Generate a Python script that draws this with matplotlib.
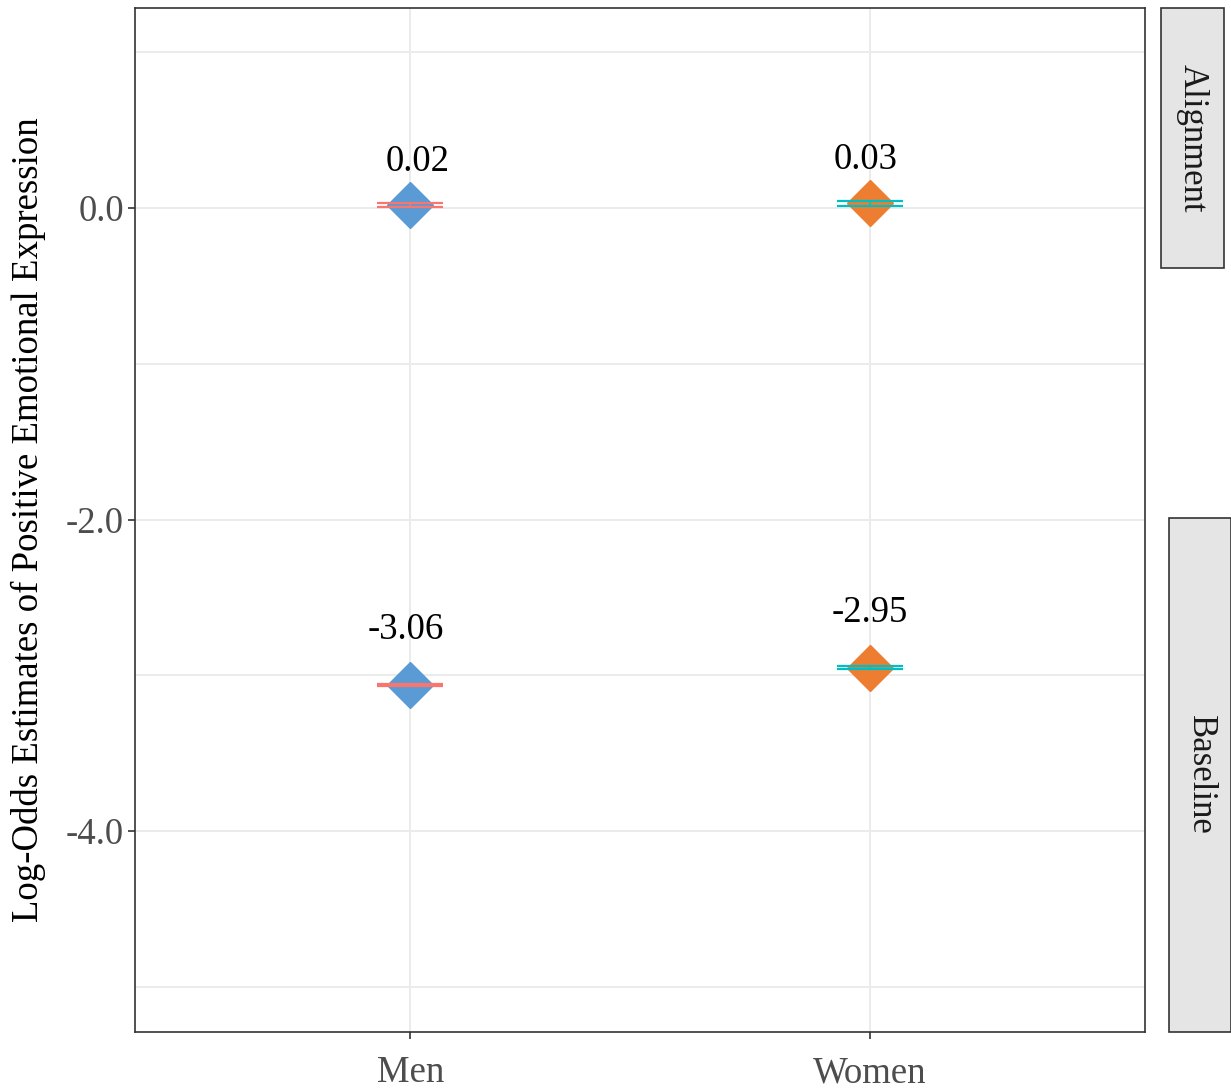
import matplotlib.pyplot as plt
from matplotlib.patches import Rectangle

plt.rcParams['font.family'] = ['Liberation Serif', 'DejaVu Serif']

groups = ['Men', 'Women']
conditions = ['Alignment', 'Baseline']
estimates = {'Men': [0.02, -3.06], 'Women': [0.03, -2.95]}
ci_half = {'Men': [0.012, 0.006], 'Women': [0.015, 0.012]}
point_colors = {'Men': '#5B9BD5', 'Women': '#ED7D31'}
bar_colors = {'Men': '#F8766D', 'Women': '#00BFC4'}
label_dx = {'Men': [5, -3], 'Women': [-3, 0]}  # nudges of value labels, points
label_dy = [19, 27]

W, H = 1231, 1089
fs = 26.5
fig = plt.figure(figsize=(W / 100, H / 100), dpi=100)
ax = fig.add_axes([135 / W, 1 - 1032 / H, (1145 - 135) / W, (1032 - 8) / H])

for i, g in enumerate(groups, start=1):
    for j, cond in enumerate(conditions):
        y = estimates[g][j]
        ax.plot(i, y, marker='D', markersize=23, color=point_colors[g],
                linestyle='none', zorder=3)
        ax.errorbar(i, y, yerr=ci_half[g][j], color=bar_colors[g], capsize=24,
                    elinewidth=1.2, capthick=1.6, linestyle='none', zorder=4)
        ax.annotate(f'{y:.2f}', (i, y), xytext=(label_dx[g][j], label_dy[j]),
                    textcoords='offset points', ha='center', va='bottom',
                    fontsize=fs, color='black')

ax.set_xlim(0.4, 2.6)
ax.set_ylim(-5.29, 1.285)
ax.set_xticks([1, 2])
ax.set_xticklabels(groups)
ax.set_yticks([0, -2, -4])
ax.set_yticklabels(['0.0', '-2.0', '-4.0'])
ax.set_yticks([1, -1, -3, -5], minor=True)
ax.tick_params(axis='y', which='minor', length=0)
ax.tick_params(which='major', length=5, width=1.2, color='#333333',
               labelsize=fs, labelcolor='#4D4D4D')
ax.tick_params(axis='x', pad=12)
ax.tick_params(axis='y', pad=3)
ax.grid(True, which='both', color='#EBEBEB', linewidth=1.4, zorder=0)
ax.set_axisbelow(True)
for s in ax.spines.values():
    s.set_color('#333333')
    s.set_linewidth(1.2)
ax.set_ylabel('Log-Odds Estimates of Positive Emotional Expression',
              fontsize=fs, labelpad=14)

# facet strips
strips = [('Alignment', 1161, 8, 1224, 268), ('Baseline', 1169, 518, 1231, 1032)]
for name, x0, y0, x1, y1 in strips:
    fig.patches.append(Rectangle((x0 / W, 1 - y1 / H), (x1 - x0) / W, (y1 - y0) / H,
                                 transform=fig.transFigure, facecolor='#E5E5E5',
                                 edgecolor='#333333', linewidth=1.2))
    fig.text((x0 + x1) / 2 / W, 1 - (y0 + y1) / 2 / H, name, rotation=270,
             ha='center', va='center', fontsize=25, color='#1A1A1A')

fig.savefig('out.png', dpi=100)
